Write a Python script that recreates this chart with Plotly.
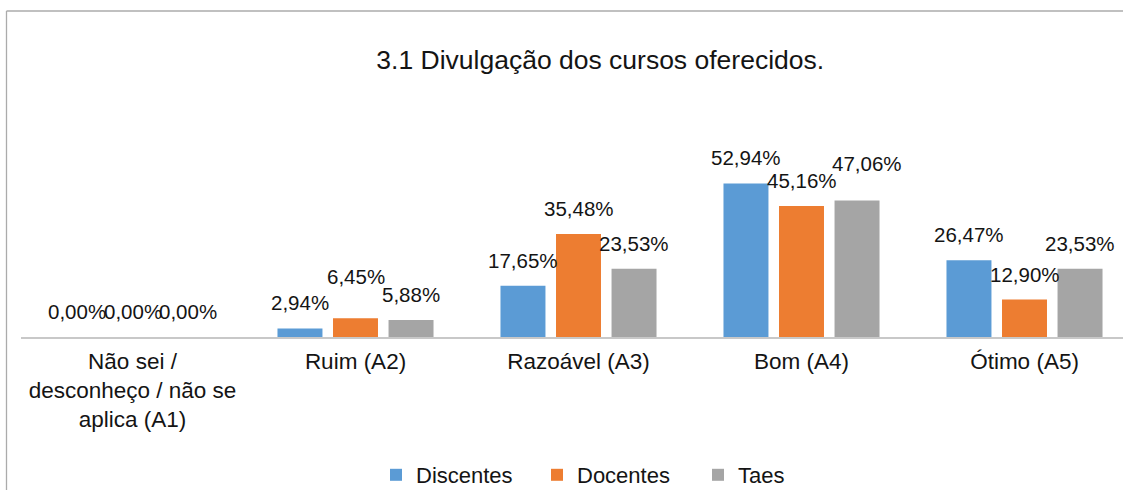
import plotly.graph_objects as go

categories = ["Não sei /<br>desconheço / não se<br>aplica (A1)", "Ruim (A2)", "Razoável (A3)", "Bom (A4)", "Ótimo (A5)"]
discentes = [0.00, 2.94, 17.65, 52.94, 26.47]
docentes = [0.00, 6.45, 35.48, 45.16, 12.90]
taes = [0.00, 5.88, 23.53, 47.06, 23.53]
series_names = ["Discentes", "Docentes", "Taes"]
colors = ["#5B9BD5", "#ED7D31", "#A5A5A5"]

# manual label nudges (pixels) as in the reference: (series index, category index) -> (dx, dy)
label_nudges = {(1, 1): (0, 16), (2, 3): (10, 12)}

W, H = 1123, 490
L, R = 21, 0
PT, PB = 163, 337  # plot top / bottom in pixels
BARGAP, GROUPGAP = 0.253, 0.19
FONT = "Liberation Sans"
TXT = "#141414"

def fmt(v):
    return f"{v:.2f}%".replace(".", ",")

fig = go.Figure()
all_series = [discentes, docentes, taes]
for name, vals, col in zip(series_names, all_series, colors):
    fig.add_trace(go.Bar(
        x=list(range(len(categories))), y=vals, name=name, marker_color=col,
        marker_line_width=0,
    ))

# data labels above each bar, aligned with grouped bar positions
slot = (1 - BARGAP) / len(all_series)
annotations = []
for k, vals in enumerate(all_series):
    off = (k - (len(all_series) - 1) / 2) * slot
    for i, v in enumerate(vals):
        dx, dy = label_nudges.get((k, i), (0, 0))
        annotations.append(dict(
            x=i + off, y=v, xref="x", yref="y", text=fmt(v), showarrow=False,
            xanchor="center", yanchor="bottom", yshift=12 + dy, xshift=dx,
            font=dict(size=20.5, color=TXT, family=FONT),
        ))

pw = W - L - R
ph = PB - PT

def px_x(p):
    return (p - L) / pw

def px_y(p):
    return (PB - p) / ph

border = dict(color="#ABABAB", width=1.3)
fig.update_layout(
    width=W, height=H,
    margin=dict(l=L, r=R, t=PT, b=H - PB, pad=0, autoexpand=False),
    paper_bgcolor="white", plot_bgcolor="white",
    barmode="group", bargap=BARGAP, bargroupgap=GROUPGAP,
    font=dict(family=FONT, color=TXT),
    title=dict(text="3.1 Divulgação dos cursos oferecidos.", x=px_x(610), xanchor="center",
               y=1 - 60 / H, yanchor="middle", font=dict(size=26.5, color=TXT, family=FONT)),
    legend=dict(orientation="h", x=px_x(376), xanchor="left",
                yref="container", y=1 - 475 / H, yanchor="middle",
                font=dict(size=22, color=TXT, family=FONT), itemwidth=30, traceorder="normal",
                entrywidth=116, entrywidthmode="pixels", bgcolor="rgba(0,0,0,0)"),
    xaxis=dict(tickmode="array", tickvals=list(range(len(categories))), ticktext=categories,
               range=[-0.5, -0.5 + pw / 223.0], showgrid=False, zeroline=False,
               showline=True, linecolor="#C8C8C8", linewidth=1.5, ticks="",
               ticklabelstandoff=3, automargin=False,
               tickfont=dict(size=22.5, color=TXT, family=FONT), fixedrange=True),
    yaxis=dict(range=[0, 60], visible=False, showgrid=False, zeroline=False, fixedrange=True,
               automargin=False),
    annotations=annotations,
    shapes=[
        dict(type="line", xref="paper", yref="paper", x0=px_x(6.5), x1=px_x(1300),
             y0=px_y(11), y1=px_y(11), line=border, layer="below"),
        dict(type="line", xref="paper", yref="paper", x0=px_x(6.5), x1=px_x(6.5),
             y0=px_y(11), y1=px_y(520), line=border, layer="below"),
    ],
)

fig.write_html("out.html", config={"displayModeBar": False},
               post_script="document.body.style.margin='0';document.body.style.overflow='hidden';")
